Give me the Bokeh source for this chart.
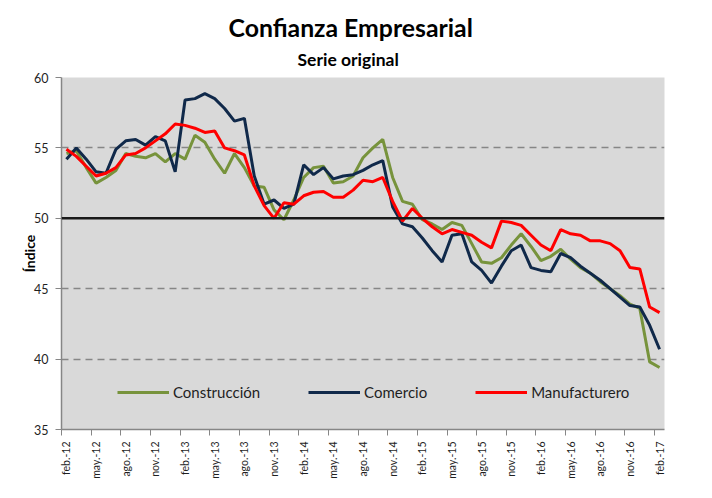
from math import pi
from bokeh.plotting import figure
from bokeh.models import FixedTicker, Span, Title, Range1d
from bokeh.embed import file_html
from bokeh.resources import INLINE

months = [
    "feb.-12", "mar.-12", "abr.-12", "may.-12", "jun.-12", "jul.-12", "ago.-12", "sep.-12", "oct.-12", "nov.-12", "dic.-12",
    "ene.-13", "feb.-13", "mar.-13", "abr.-13", "may.-13", "jun.-13", "jul.-13", "ago.-13", "sep.-13", "oct.-13", "nov.-13", "dic.-13",
    "ene.-14", "feb.-14", "mar.-14", "abr.-14", "may.-14", "jun.-14", "jul.-14", "ago.-14", "sep.-14", "oct.-14", "nov.-14", "dic.-14",
    "ene.-15", "feb.-15", "mar.-15", "abr.-15", "may.-15", "jun.-15", "jul.-15", "ago.-15", "sep.-15", "oct.-15", "nov.-15", "dic.-15",
    "ene.-16", "feb.-16", "mar.-16", "abr.-16", "may.-16", "jun.-16", "jul.-16", "ago.-16", "sep.-16", "oct.-16", "nov.-16", "dic.-16",
    "ene.-17", "feb.-17",
]

construccion = [
    54.6, 54.8, 53.6, 52.5, 52.9, 53.4, 54.6, 54.4, 54.3, 54.6, 54.0,
    54.6, 54.2, 55.9, 55.4, 54.2, 53.2, 54.6, 53.6, 52.3, 52.2, 50.6, 49.9,
    51.3, 52.9, 53.6, 53.7, 52.5, 52.6, 53.0, 54.3, 55.0, 55.6, 52.9, 51.2,
    51.0, 49.9, 49.6, 49.2, 49.7, 49.5, 48.2, 46.9, 46.8, 47.2, 48.1, 48.9,
    48.0, 47.0, 47.3, 47.8, 47.1, 46.5, 46.1, 45.5, 45.0, 44.5, 43.9, 43.6,
    39.8, 39.4,
]

comercio = [
    54.2, 55.0, 54.2, 53.3, 53.2, 54.9, 55.5, 55.6, 55.2, 55.8, 55.5,
    53.3, 58.4, 58.5, 58.85, 58.5, 57.8, 56.9, 57.1, 53.0, 51.0, 51.3, 50.7,
    51.0, 53.8, 53.1, 53.6, 52.8, 53.0, 53.1, 53.4, 53.8, 54.1, 50.8, 49.6,
    49.4, 48.6, 47.7, 46.9, 48.8, 48.9, 46.9, 46.3, 45.4, 46.6, 47.7, 48.1,
    46.5, 46.3, 46.2, 47.5, 47.2, 46.6, 46.1, 45.6, 45.0, 44.4, 43.8, 43.7,
    42.4, 40.7,
]

manufacturero = [
    54.9, 54.4, 53.7, 53.0, 53.2, 53.6, 54.5, 54.6, 55.0, 55.5, 56.0,
    56.7, 56.6, 56.4, 56.1, 56.2, 55.0, 54.8, 54.5, 52.3, 50.9, 50.0, 51.1,
    51.0, 51.6, 51.85, 51.9, 51.5, 51.5, 52.0, 52.7, 52.6, 52.9, 51.2, 49.8,
    50.7, 50.0, 49.4, 48.9, 49.2, 49.0, 48.8, 48.3, 47.9, 49.8, 49.7, 49.5,
    48.8, 48.1, 47.7, 49.2, 48.9, 48.8, 48.4, 48.4, 48.2, 47.7, 46.5, 46.4,
    43.7, 43.3,
]

y_ticks = [35, 40, 45, 50, 55, 60]
reference_level = 50

x = list(range(len(months)))
label_positions = list(range(0, len(months), 3))
boundaries = [i - 0.5 for i in label_positions]

FONT = "Lato"
AXIS_GRAY = "#868686"
TEXT = "#1f1f1f"

p = figure(
    width=686, height=482,
    output_backend="svg", toolbar_location=None, title=None,
    x_range=Range1d(-0.5, len(months) - 0.5), y_range=Range1d(35, 60),
    min_border_left=61, min_border_right=22, min_border_top=77, min_border_bottom=53,
)
p.background_fill_color = "#d9d9d9"
p.border_fill_color = "white"
p.outline_line_color = None

# titles
p.add_layout(Title(text="Serie original", align="left", offset=236, text_font=FONT, text_font_size="17.5px",
                   text_font_style="bold", text_color="black", standoff=15), "above")
p.add_layout(Title(text="Confianza Empresarial", align="left", offset=167, text_font=FONT, text_font_size="24.8px",
                   text_font_style="bold", text_color="black", standoff=-5), "above")

# grid
p.xgrid.visible = False
p.ygrid.ticker = FixedTicker(ticks=[t for t in y_ticks if t not in (35, reference_level)])
p.ygrid.grid_line_color = AXIS_GRAY
p.ygrid.grid_line_dash = "7 5"
p.ygrid.grid_line_width = 1.5

p.add_layout(Span(location=reference_level, dimension="width", line_color="#1a1a1a", line_width=2.5))

# y axis
p.yaxis.ticker = FixedTicker(ticks=y_ticks)
p.yaxis.axis_line_color = AXIS_GRAY
p.yaxis.axis_line_width = 1.5
p.yaxis.major_tick_line_color = AXIS_GRAY
p.yaxis.major_tick_out = 6
p.yaxis.major_tick_in = 0
p.yaxis.minor_tick_line_color = None
p.yaxis.major_label_standoff = 7
p.yaxis.major_label_text_font = FONT
p.yaxis.major_label_text_font_size = "12.5px"
p.yaxis.major_label_text_color = TEXT
p.yaxis.axis_label = "Índice"
p.yaxis.axis_label_text_font = FONT
p.yaxis.axis_label_text_font_style = "bold"
p.yaxis.axis_label_text_font_size = "14px"
p.yaxis.axis_label_text_color = "black"
p.yaxis.axis_label_standoff = -7

# x axis
p.xaxis.ticker = FixedTicker(ticks=label_positions, minor_ticks=boundaries)
p.xaxis.major_label_overrides = {i: months[i] for i in label_positions}
p.xaxis.major_label_orientation = pi / 2
p.xaxis.axis_line_color = AXIS_GRAY
p.xaxis.axis_line_width = 1.5
p.xaxis.major_tick_out = 0
p.xaxis.major_tick_in = 0
p.xaxis.minor_tick_out = 6
p.xaxis.minor_tick_in = 0
p.xaxis.minor_tick_line_color = AXIS_GRAY
p.xaxis.major_label_standoff = 6
p.xaxis.major_label_text_font = FONT
p.xaxis.major_label_text_font_size = "10.5px"
p.xaxis.major_label_text_color = TEXT

# series
p.line(x, construccion, line_color="#77933c", line_width=3, legend_label="Construcción")
p.line(x, comercio, line_color="#10294a", line_width=3, legend_label="Comercio")
p.line(x, manufacturero, line_color="#ff0000", line_width=3, legend_label="Manufacturero")

lg = p.legend[0]
lg.location = (56, 27)
lg.orientation = "horizontal"
lg.glyph_width = 52
lg.glyph_height = 20
lg.label_standoff = 4
lg.spacing = 48
lg.padding = 0
lg.margin = 0
lg.background_fill_alpha = 0
lg.border_line_alpha = 0
lg.label_text_font = FONT
lg.label_text_font_size = "15px"
lg.label_text_color = TEXT

open("out.html", "w").write(file_html(p, INLINE))
